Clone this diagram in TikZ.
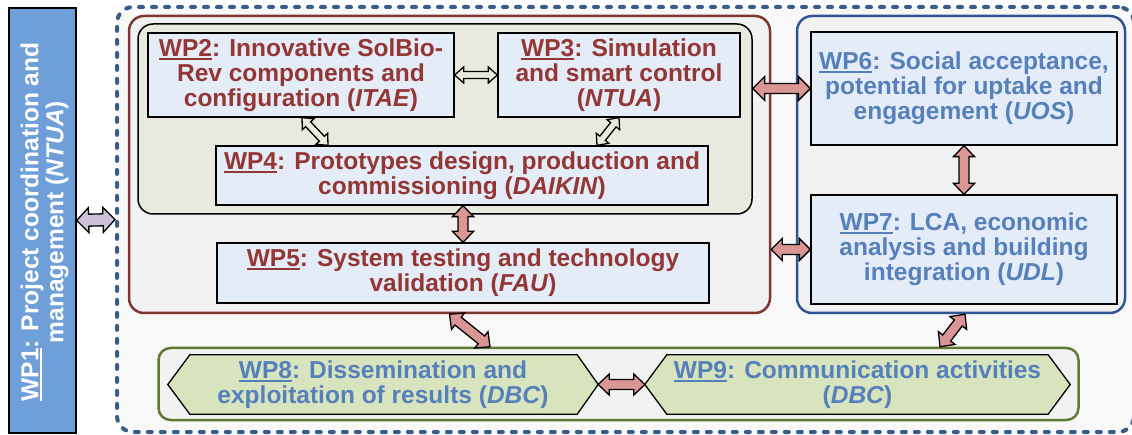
\documentclass[tikz,border=0pt]{standalone}
\usepackage{fontspec}
\setmainfont{Liberation Sans}
\usetikzlibrary{calc}
\definecolor{wpfill}{HTML}{E4ECF7}
\definecolor{redtxt}{HTML}{943634}
\definecolor{bluetxt}{HTML}{5580BB}
\definecolor{redline}{HTML}{7F3632}
\definecolor{blueline}{HTML}{2F5597}
\definecolor{dashline}{HTML}{385D8A}
\definecolor{greenline}{HTML}{5F7A32}
\definecolor{hexfill}{HTML}{D7E4BD}
\definecolor{outerfill}{HTML}{F8F8F8}
\definecolor{grpfill}{HTML}{F2F2F2}
\definecolor{innerfill}{HTML}{E8EADF}
\definecolor{wponefill}{HTML}{6F9FD8}
\definecolor{pinkfill}{HTML}{D99694}
\definecolor{lavfill}{HTML}{CCC0DA}
\newcommand\wpu[1]{\setbox0\hbox{#1}\rlap{\rule[-3.5pt]{\wd0}{2pt}}\box0}
% double block arrow between two points
\newcommand\dblarrow[6]{% from, to, fill, shaft half, head half, head length
  \filldraw[draw=black, line width=1.3pt, line join=miter, fill=#3]
    (#1) -- ($($(#1)!#6!(#2)$)!#5!90:(#2)$)
    -- ($($(#1)!#6!(#2)$)!#4!90:(#2)$)
    -- ($($(#2)!#6!(#1)$)!#4!-90:(#1)$)
    -- ($($(#2)!#6!(#1)$)!#5!-90:(#1)$)
    -- (#2)
    -- ($($(#2)!#6!(#1)$)!#5!90:(#1)$)
    -- ($($(#2)!#6!(#1)$)!#4!90:(#1)$)
    -- ($($(#1)!#6!(#2)$)!#4!-90:(#2)$)
    -- ($($(#1)!#6!(#2)$)!#5!-90:(#2)$)
    -- cycle;}
\tikzset{
  txt/.style={font=\fontsize{24.5}{25}\selectfont\bfseries, align=center, inner sep=0pt},
  wpbox/.style={txt, draw=black, line width=1.3pt, fill=wpfill, text=redtxt},
  wpboxb/.style={wpbox, text=bluetxt},
  grp/.style={rounded corners=15pt, fill=grpfill, line width=2.5pt, inner sep=0pt},
  hexline/.style={draw=black, line width=1.3pt, fill=hexfill},
}
\begin{document}
\begin{tikzpicture}[x=1pt,y=-1pt]
\useasboundingbox (0,0) rectangle (1132,435);
% outer dashed container
\node[draw=dashline, fill=outerfill, line width=4pt, dash pattern=on 4pt off 9pt, line cap=round,
  rounded corners=16pt, minimum width=1017pt, minimum height=425pt, inner sep=0pt]
  (outer) at (625.5,219.5) {};
% WP1
\node[draw=black, line width=1.3pt, fill=wponefill, minimum width=67pt, minimum height=425pt, inner sep=0pt]
  (wp1) at (42.5,220.5) {};
\node[txt, text=white, rotate=90] (wp1t) at (44.5,222)
  {\wpu{WP1}: Project coordination and\\ management (\textit{NTUA})};
% red group
\node[grp, draw=redline, minimum width=641pt, minimum height=297pt] (red) at (449.5,164.5) {};
\node[draw=black, line width=1.5pt, fill=innerfill, rounded corners=15pt, minimum width=614pt,
  minimum height=190pt, inner sep=0pt] (inner) at (445,119) {};
% blue group
\node[grp, draw=blueline, minimum width=328pt, minimum height=297pt] (blue) at (961,164.5) {};
% green group
\node[grp, draw=greenline, rounded corners=12pt, minimum width=920pt, minimum height=72pt] (green) at (618.5,384) {};
% WP boxes
\node[wpbox, minimum width=306pt, minimum height=84pt] (wp2) at (301,75)
  {\wpu{WP2}: Innovative SolBio-\\Rev components and\\configuration (\textit{ITAE})};
\node[wpbox, minimum width=242pt, minimum height=84pt] (wp3) at (619,75)
  {\wpu{WP3}: Simulation\\and smart control\\(\textit{NTUA})};
\node[wpbox, minimum width=492pt, minimum height=59pt] (wp4) at (462,175.5)
  {\wpu{WP4}: Prototypes design, production and\\commissioning (\textit{DAIKIN})};
\node[wpbox, minimum width=492pt, minimum height=60pt] (wp5) at (463,273)
  {\wpu{WP5}: System testing and technology\\validation (\textit{FAU})};
\node[wpboxb, minimum width=306pt, minimum height=113pt] (wp6) at (964,88.5)
  {\wpu{WP6}: Social acceptance,\\potential for uptake and\\engagement (\textit{UOS})};
\node[wpboxb, minimum width=306pt, minimum height=109pt] (wp7) at (964,249.5)
  {\wpu{WP7}: LCA, economic\\analysis and building\\integration (\textit{UDL})};
% hexagon frames (geometry nodes)
\node[inner sep=0pt, minimum width=430pt, minimum height=59pt] (wp8) at (383,384.5) {};
\node[inner sep=0pt, minimum width=425pt, minimum height=59pt] (wp9) at (857.5,384.5) {};
\path[hexline]
  (wp8.west) -- ([xshift=22pt]wp8.north west) -- ([xshift=-21pt]wp8.north east) -- (wp8.east)
  -- ([xshift=-21pt]wp8.south east) -- ([xshift=22pt]wp8.south west) -- cycle;
\path[hexline]
  (wp9.west) -- ([xshift=22pt]wp9.north west) -- ([xshift=-22pt]wp9.north east) -- (wp9.east)
  -- ([xshift=-22pt]wp9.south east) -- ([xshift=22pt]wp9.south west) -- cycle;
\node[txt, text=bluetxt] (wp8t) at (wp8) {\wpu{WP8}: Dissemination and\\exploitation of results (\textit{DBC})};
\node[txt, text=bluetxt] (wp9t) at (wp9) {\wpu{WP9}: Communication activities\\(\textit{DBC})};
% arrows
\dblarrow{wp1.east}{outer.west}{lavfill}{6pt}{12.5pt}{12pt}
\dblarrow{wp2.east}{wp3.west}{innerfill}{3.5pt}{8pt}{9pt}
\dblarrow{[xshift=1pt]wp2.south}{[xshift=-134pt]wp4.north}{innerfill}{3.5pt}{8pt}{9pt}
\dblarrow{wp3.south}{[xshift=135pt]wp4.north}{innerfill}{3.5pt}{8pt}{9pt}
\dblarrow{[xshift=1pt]wp4.south}{wp5.north}{pinkfill}{5pt}{10.5pt}{11pt}
\coordinate (ie) at (wp6.west -| inner.east);
\dblarrow{ie}{wp6.west}{pinkfill}{5pt}{12pt}{12pt}
\coordinate (re) at (wp7.west -| red.east);
\dblarrow{re}{wp7.west}{pinkfill}{5pt}{11pt}{11pt}
\dblarrow{wp6.south}{wp7.north}{pinkfill}{5pt}{10.5pt}{11pt}
\dblarrow{red.south}{[xshift=-128.5pt]green.north}{pinkfill}{5pt}{10.5pt}{11pt}
\dblarrow{[xshift=4pt]blue.south}{[xshift=321.5pt]green.north}{pinkfill}{5pt}{10.5pt}{11pt}
\dblarrow{wp8.east}{wp9.west}{pinkfill}{5pt}{10.5pt}{11pt}
\end{tikzpicture}
\end{document}
